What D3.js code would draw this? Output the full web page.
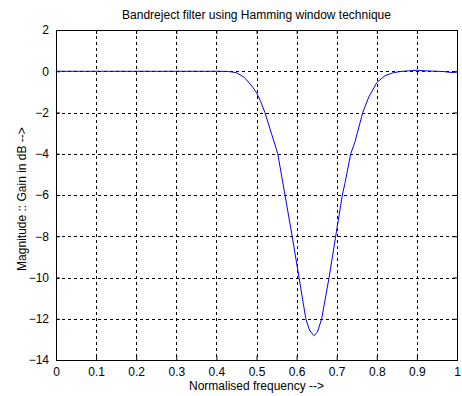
<!DOCTYPE html>
<html>
<head>
<meta charset="utf-8">
<script src="https://cdn.jsdelivr.net/npm/d3@7"></script>
<style>
  html, body { margin: 0; padding: 0; background: #fff; }
  svg { display: block; font-family: "Liberation Sans", Arial, sans-serif; }
</style>
</head>
<body>
<svg id="chart" width="462" height="396"></svg>
<script>
// Magnitude response of the band-reject FIR filter (Hamming window)
const freq = [0, 0.1, 0.2, 0.3, 0.4, 0.43, 0.45, 0.47, 0.49, 0.5, 0.51, 0.521, 0.537,
  0.553, 0.571, 0.589, 0.606, 0.623, 0.632, 0.643, 0.652, 0.6625, 0.681,
  0.6975, 0.714, 0.721, 0.735, 0.745, 0.765, 0.78, 0.8, 0.82, 0.841, 0.86, 0.88, 0.9,
  0.92, 0.95, 0.97, 0.98, 0.99, 1.0];
const magDb = [0, 0, 0, 0, 0, -0.01, -0.07, -0.3, -0.76, -1.04, -1.45, -2, -3,
  -4, -6, -8, -10, -12, -12.55, -12.82, -12.65, -12, -10,
  -8, -6, -5.4, -4, -3.46, -2, -1.25, -0.55, -0.22, -0.07, -0.01, 0.02, 0.05,
  0.02, 0, -0.02, -0.05, -0.06, -0.04];

const xTicks = [0, 0.1, 0.2, 0.3, 0.4, 0.5, 0.6, 0.7, 0.8, 0.9, 1];
const yTicks = [2, 0, -2, -4, -6, -8, -10, -12, -14];

const titleText = "Bandreject filter using Hamming window technique";
const xLabelText = "Normalised frequency -->";
const yLabelText = "Magnitude :: Gain in dB -->";

const svg = d3.select("#chart");
const m = { left: 56, right: 5, top: 30, bottom: 36 };
const W = 462, H = 396;
const iw = W - m.left - m.right, ih = H - m.top - m.bottom;
const fs = 12;

const x = d3.scaleLinear().domain([0, 1]).range([0, iw]);
const y = d3.scaleLinear().domain([-14, 2]).range([ih, 0]);

const g = svg.append("g").attr("transform", `translate(${m.left},${m.top})`);

// dashed grid
g.append("g").selectAll("line").data(xTicks.slice(1, -1)).join("line")
  .attr("x1", d => Math.round(x(d)) + 0.5).attr("x2", d => Math.round(x(d)) + 0.5)
  .attr("y1", 0).attr("y2", ih)
  .attr("stroke", "#000").attr("stroke-width", 1).attr("stroke-dasharray", "3,3");
g.append("g").selectAll("line").data(yTicks.slice(1, -1)).join("line")
  .attr("y1", d => Math.round(y(d)) + 0.5).attr("y2", d => Math.round(y(d)) + 0.5)
  .attr("x1", 0).attr("x2", iw)
  .attr("stroke", "#000").attr("stroke-width", 1).attr("stroke-dasharray", "3,3");

// axes with inward ticks
const xAxis = g.append("g").attr("transform", `translate(0,${ih})`)
  .call(d3.axisBottom(x).tickValues(xTicks).tickFormat(d3.format("")).tickSizeInner(-4).tickSizeOuter(0).tickPadding(7));
const xAxisTop = g.append("g")
  .call(d3.axisTop(x).tickValues(xTicks).tickFormat("").tickSizeInner(-4).tickSizeOuter(0));
const yAxis = g.append("g")
  .call(d3.axisLeft(y).tickValues(yTicks).tickFormat(d3.format("")).tickSizeInner(-4).tickSizeOuter(0).tickPadding(7));
const yAxisRight = g.append("g").attr("transform", `translate(${iw},0)`)
  .call(d3.axisRight(y).tickValues(yTicks).tickFormat("").tickSizeInner(-4).tickSizeOuter(0));

[xAxis, xAxisTop, yAxis, yAxisRight].forEach(a => {
  a.select(".domain").remove();
  a.selectAll("line").attr("stroke", "#000");
  a.selectAll("text").attr("font-size", fs).attr("fill", "#000")
    .attr("font-family", "'Liberation Sans', Arial, sans-serif");
});

// frame
g.append("rect").attr("x", 0.5).attr("y", 0.5).attr("width", iw).attr("height", ih)
  .attr("fill", "none").attr("stroke", "#000").attr("stroke-width", 1);

// response curve
const pts = freq.map((f, i) => [f, magDb[i]]);
g.append("path").datum(pts)
  .attr("fill", "none").attr("stroke", "#0000ff").attr("stroke-width", 1)
  .attr("d", d3.line().x(d => x(d[0])).y(d => y(d[1])));

// labels
svg.append("text").attr("x", m.left + iw / 2).attr("y", 19).attr("text-anchor", "middle")
  .attr("font-size", fs).text(titleText);
svg.append("text").attr("x", m.left + iw / 2).attr("y", 390).attr("text-anchor", "middle")
  .attr("font-size", fs).text(xLabelText);
svg.append("text").attr("transform", `translate(26,199) rotate(-90)`)
  .attr("text-anchor", "middle").attr("font-size", fs).text(yLabelText);
</script>
</body>
</html>
